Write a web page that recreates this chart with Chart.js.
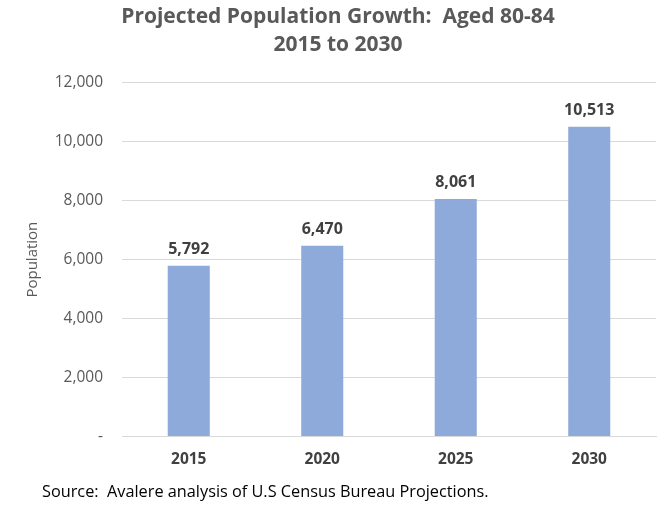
<!DOCTYPE html>
<html>
<head>
<meta charset="utf-8">
<script src="https://cdn.jsdelivr.net/npm/chart.js@4/dist/chart.umd.min.js"></script>
<style>
  html, body { margin: 0; padding: 0; background: #fff; }
  #wrap { width: 664px; height: 515px; }
</style>
</head>
<body>
<div id="wrap"><canvas id="myChart"></canvas></div>
<script>
const years = ['2015', '2020', '2025', '2030'];
const population = [5792, 6470, 8061, 10513];
const yTicks = [0, 2000, 4000, 6000, 8000, 10000, 12000];
const sourceNote = 'Source:  Avalere analysis of U.S Census Bureau Projections.';

// value labels above each bar
const barLabels = {
  id: 'barLabels',
  afterDatasetsDraw(chart) {
    const ctx = chart.ctx;
    const meta = chart.getDatasetMeta(0);
    ctx.save();
    ctx.font = 'bold 16px "Open Sans"';
    ctx.fillStyle = '#404040';
    ctx.textAlign = 'center';
    ctx.textBaseline = 'bottom';
    meta.data.forEach((bar, i) => {
      ctx.fillText(population[i].toLocaleString('en-US'), bar.x, bar.y - 8);
    });
    ctx.restore();
  }
};

// source line under the chart
const sourceLine = {
  id: 'sourceLine',
  afterDraw(chart) {
    const ctx = chart.ctx;
    ctx.save();
    ctx.font = '16.3px "Open Sans"';
    ctx.fillStyle = '#000';
    ctx.textAlign = 'left';
    ctx.textBaseline = 'middle';
    ctx.fillText(sourceNote, 42, chart.height - 23);
    ctx.restore();
  }
};

new Chart(document.getElementById('myChart'), {
  type: 'bar',
  data: {
    labels: years,
    datasets: [{
      label: 'Population',
      data: population,
      backgroundColor: '#8eaadb',
      barPercentage: 0.63,
      categoryPercentage: 0.5
    }]
  },
  options: {
    responsive: true,
    maintainAspectRatio: false,
    animation: false,
    layout: { padding: { left: 20, right: 8, top: 0, bottom: 40 } },
    plugins: {
      legend: { display: false },
      tooltip: { enabled: false },
      title: {
        display: true,
        text: ['Projected Population Growth:  Aged 80-84', '2015 to 2030'],
        color: '#595959',
        font: { family: '"Open Sans"', size: 21, weight: 'bold', lineHeight: 1.33 },
        padding: { top: 3, bottom: 24 }
      }
    },
    scales: {
      x: {
        grid: { display: false },
        border: { color: '#d9d9d9' },
        ticks: {
          color: '#404040',
          font: { family: '"Open Sans"', size: 15.5, weight: 'bold' },
          padding: 6
        }
      },
      y: {
        min: 0,
        max: 12000,
        afterBuildTicks(axis) { axis.ticks = yTicks.map(v => ({ value: v })); },
        afterFit(axis) { axis.width = 102; },
        grid: { color: '#d9d9d9', drawTicks: false },
        border: { display: false },
        ticks: {
          color: '#595959',
          font: { family: '"Open Sans"', size: 15.5 },
          padding: 19,
          callback: v => v === 0 ? '-' : v.toLocaleString('en-US')
        },
        title: {
          display: true,
          text: 'Population',
          color: '#595959',
          font: { family: '"Open Sans"', size: 15 },
          padding: { top: 4, bottom: 0 }
        }
      }
    }
  },
  plugins: [barLabels, sourceLine]
});
</script>
</body>
</html>
